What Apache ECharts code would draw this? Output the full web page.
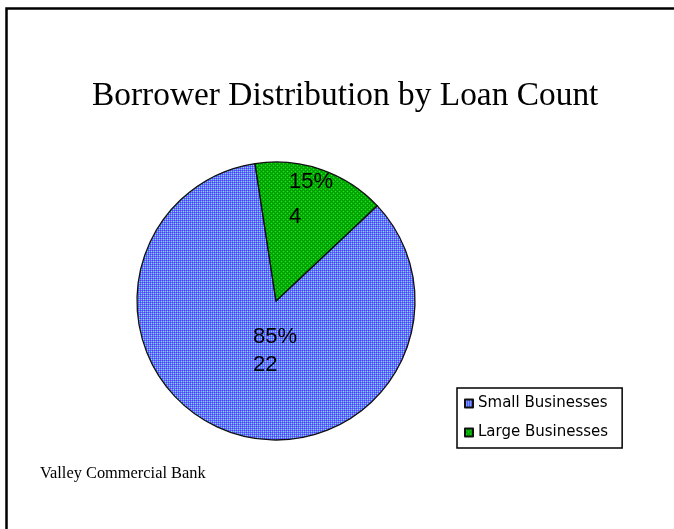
<!DOCTYPE html>
<html>
<head>
<meta charset="utf-8">
<title>Borrower Distribution by Loan Count</title>
<script src="https://cdn.jsdelivr.net/npm/echarts@6/dist/echarts.min.js"></script>
<style>
  html, body { margin: 0; padding: 0; background: #fff; }
  #chart { width: 674px; height: 529px; }
</style>
</head>
<body>
<div id="chart"></div>
<script>
// Loan counts by borrower type
const categories = ['Small Businesses', 'Large Businesses'];
const loanCounts = [22, 4];
const titleText = 'Borrower Distribution by Loan Count';
const footnoteText = 'Valley Commercial Bank';

// Small dithered tiles used as slice fills
function makeTile(size, rows, palette) {
  const c = document.createElement('canvas');
  c.width = size; c.height = size;
  const ctx = c.getContext('2d');
  for (let y = 0; y < size; y++) {
    for (let x = 0; x < size; x++) {
      ctx.fillStyle = palette[rows[y][x]];
      ctx.fillRect(x, y, 1, 1);
    }
  }
  return c;
}

const blueTile = makeTile(4, [
  'bLbL',
  'LcLg',
  'bLbL',
  'LgLc'
], { b: '#4444ff', L: '#6f6fff', c: '#4cf4ff', g: '#a8a8e0' });

const greenTile = makeTile(4, [
  'dmdm',
  'mlmd',
  'dmdm',
  'mdml'
], { d: '#009000', m: '#00bb00', l: '#2ad82a' });

const fills = [
  { image: blueTile, repeat: 'repeat' },
  { image: greenTile, repeat: 'repeat' }
];

// Label placement inside each slice, relative to the pie centre
const center = [276, 301];
const labelSpots = [[-23, 50], [13, -102]];
const labelLineHeights = [28, 35];

const chart = echarts.init(document.getElementById('chart'), null, { renderer: 'canvas' });

chart.setOption({
  backgroundColor: '#ffffff',
  animation: false,
  title: {
    text: titleText,
    left: 92,
    top: 80,
    padding: 0,
    textStyle: {
      fontFamily: 'Liberation Serif, Times New Roman, serif',
      fontSize: 33.4,
      fontWeight: 'normal',
      color: '#000'
    }
  },
  legend: {
    data: categories,
    orient: 'vertical',
    left: 457,
    top: 388,
    padding: [8, 14, 8, 7],
    itemGap: 14,
    itemWidth: 8,
    itemHeight: 8,
    icon: 'rect',
    borderColor: '#000',
    borderWidth: 1.5,
    selectedMode: false,
    textStyle: {
      fontFamily: 'DejaVu Sans, sans-serif',
      fontSize: 15,
      color: '#000'
    }
  },
  graphic: [
    {
      type: 'polyline',
      shape: { points: [[6.5, 560], [6.5, 8.5], [700, 8.5]] },
      style: { stroke: '#000', lineWidth: 2.5, fill: null },
      silent: true
    },
    {
      type: 'text',
      left: 40,
      top: 466,
      style: {
        text: footnoteText,
        font: '16.4px "Liberation Serif", "Times New Roman", serif',
        fill: '#000'
      },
      silent: true
    }
  ],
  series: [{
    type: 'pie',
    center: center,
    radius: 139,
    startAngle: 43.3,
    clockwise: true,
    percentPrecision: 0,
    silent: true,
    itemStyle: { borderColor: '#111', borderWidth: 1.3 },
    label: {
      show: true,
      position: 'inside',
      formatter: '{d}%\n{c}',
      fontFamily: 'Liberation Sans, Arial, sans-serif',
      fontSize: 22,
      color: '#000',
      align: 'left'
    },
    labelLine: { show: false },
    labelLayout: function (params) {
      const spot = labelSpots[params.dataIndex];
      return {
        x: center[0] + spot[0],
        y: center[1] + spot[1],
        align: 'left',
        verticalAlign: 'middle'
      };
    },
    emphasis: { disabled: true },
    data: categories.map((name, i) => ({
      name: name,
      value: loanCounts[i],
      itemStyle: { color: fills[i] },
      label: { lineHeight: labelLineHeights[i] }
    }))
  }]
});
</script>
</body>
</html>
